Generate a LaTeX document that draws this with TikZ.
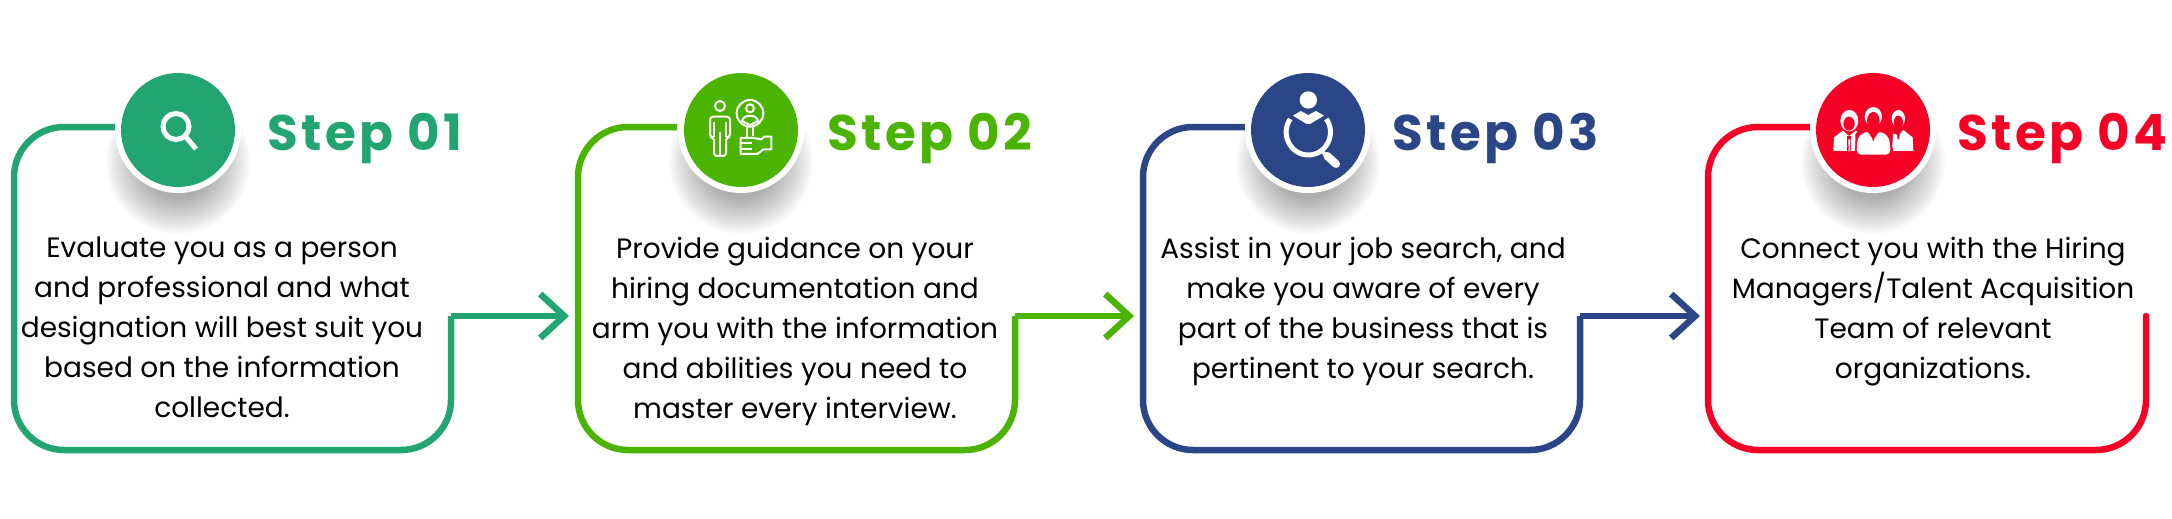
\documentclass[tikz,border=0pt]{standalone}
\usepackage{fontspec}
\setmainfont{Poppins}
\newfontfamily\headfont{Poppins}[LetterSpace=7]
\usetikzlibrary{arrows.meta,backgrounds}
\definecolor{cgreen}{RGB}{34,165,115}
\definecolor{clime}{RGB}{75,180,1}
\definecolor{cblue}{RGB}{42,70,135}
\definecolor{cred}{RGB}{246,0,38}
\tikzset{
  x=1pt,y=-1pt,
  badge/.style={circle,fill=#1,minimum size=114pt,inner sep=0pt},
  ringw/.style={circle,fill=white,minimum size=126pt,inner sep=0pt},
  title/.style={anchor=base west,inner sep=0pt,text=#1,font=\fontsize{50}{50}\selectfont\headfont\bfseries},
  body/.style={anchor=north,inner sep=0pt,align=center,text=black,font=\fontsize{28}{40}\selectfont},
  outline/.style={draw=#1,line width=6.5pt,line join=miter,line cap=square},
  link/.style={draw=#1,line width=6.5pt,-{Straight Barb[length=24pt,width=44pt,line width=6.5pt]}},
  ico/.style={white,line width=2pt},
}
\newcommand{\softshadow}[1]{%
  \foreach \r in {36,38,...,72}{\fill[black,opacity=.018] (#1,162) circle[radius=\r];}}
\begin{document}
\begin{tikzpicture}
\useasboundingbox (0,0) rectangle (2172,519);
% shadows
\softshadow{178}\softshadow{741}\softshadow{1308}\softshadow{1873}
% coordinates of outlines
\foreach \n/\l/\e/\r in {a/14/115/451,b/578/677/1015,c/1143/1245/1580,d/1708/1810/2146}{
  \coordinate (s\n) at (\e,127);
  \coordinate (tl\n) at (\l,127);
  \coordinate (bl\n) at (\l,450);
  \coordinate (br\n) at (\r,450);
  \coordinate (m\n) at (\r,316);
}
\coordinate (ta) at (569,316);
\coordinate (tb) at (1134,316);
\coordinate (tc) at (1700,316);
% outlines
\draw[outline=cgreen,rounded corners=50pt] (sa) -- (tla) -- (bla) -- (bra) -- (ma);
\draw[link=cgreen] (ma) -- (ta);
\draw[outline=clime,rounded corners=50pt] (sb) -- (tlb) -- (blb) -- (brb) -- (mb);
\draw[link=clime] (mb) -- (tb);
\draw[outline=cblue,rounded corners=50pt] (sc) -- (tlc) -- (blc) -- (brc) -- (mc);
\draw[link=cblue] (mc) -- (tc);
\draw[outline=cred,rounded corners=50pt,line cap=round] (sd) -- (tld) -- (bld) -- (brd) -- (md);
% badges
\node[ringw] at (178,130) {};
\node[ringw] at (741,130) {};
\node[ringw] at (1308,130) {};
\node[ringw] at (1873,130) {};
\node[badge=cgreen] (n1) at (178,130) {};
\node[badge=clime] (n2) at (741,130) {};
\node[badge=cblue] (n3) at (1308,130) {};
\node[badge=cred] (n4) at (1873,130) {};
% titles
\node[title=cgreen] (h1) at (267,150) {Step 01};
\node[title=clime] (h2) at (827,150) {Step 02};
\node[title=cblue] (h3) at (1392,150) {Step 03};
\node[title=cred] (h4) at (1957,150) {Step 04};
% body
\node[body] (t1) at (222,237) {Evaluate you as a person\\and professional and what\\designation will best suit you\\based on the information\\collected.};
\node[body] (t2) at (795,237) {Provide guidance on your\\hiring documentation and\\arm you with the information\\and abilities you need to\\master every interview.};
\node[body] (t3) at (1363,237) {Assist in your job search, and\\make you aware of every\\part of the business that is\\pertinent to your search.};
\node[body] (t4) at (1933,237) {Connect you with the Hiring\\Managers/Talent Acquisition\\Team of relevant\\organizations.};
% icon 1
\draw[white,line width=5pt] (176,126.5) circle[radius=13];
\draw[white,line width=5pt] (185,136) -- (196,149);
% icon 2
\begin{scope}[shift={(660,50)},x=.3333pt,y=-.3333pt,ico]
\draw (180,168) circle[radius=15];
\draw[rounded corners=3pt,line join=round] (150,262) -- (150,200) -- (210,200) -- (210,262) -- (198,262) -- (198,318) -- (162,318) -- (162,262) -- cycle;
\draw (180,245) -- (180,318) (162,215) -- (162,262) (198,215) -- (198,262);
\draw (270,190) circle[radius=40];
\draw (270,175) circle[radius=12];
\draw (246,213) .. controls (250,192) and (290,192) .. (294,213) -- (270,225) -- cycle;
\draw (262,232) -- (262,264) (280,232) -- (280,258);
\draw[line join=round] (242,264) -- (280,264) -- (305,268) -- (312,260) -- (334,260) -- (334,298) -- (310,298) -- (292,312) -- (242,312) -- cycle;
\draw (242,280) -- (275,280) (242,296) -- (275,296);
\end{scope}
% icon 3
\begin{scope}[shift={(1230,50)},x=.3333pt,y=-.3333pt]
\fill[white] (235,150) circle[radius=26];
\fill[white] (189,197) -- (212,183) -- (235,195) -- (258,183) -- (282,197) -- (240,222) -- (230,222) -- cycle;
\draw[white,line width=5pt] (181,207) .. controls (150,250) and (180,315) .. (235,315) .. controls (290,315) and (320,250) .. (289,207);
\draw[white,line width=3.5pt] (272,300) -- (292,320);
\draw[white,line width=8pt,line cap=round] (292,318) -- (318,342);
\end{scope}
% icon 4
\begin{scope}[shift={(1790,50)},x=.3333pt,y=-.3333pt]
\fill[white] (130,303) -- (132,262) -- (158,242) -- (177,258) -- (197,242) -- (210,250) -- (198,262) -- (195,303) -- cycle;
\fill[white] (305,303) -- (310,250) -- (325,256) -- (340,240) -- (368,262) -- (370,303) -- cycle;
\fill[white] (178,212) ellipse[x radius=27,y radius=32];
\fill[cred] (177,221) ellipse[x radius=17,y radius=21];
\fill[cred] (172,258) -- (184,258) -- (184,305) -- (172,305) -- cycle;
\fill[white] (175,268) -- (181,268) -- (180,305) -- (176,305) -- cycle;
\fill[white] (325,206) ellipse[x radius=20,y radius=26];
\fill[cred] (325,217) ellipse[x radius=14,y radius=20];
\fill[cred] (320,245) -- (330,245) -- (327,268) -- (323,268) -- cycle;
\fill[cred] (196,252) -- (214,236) -- (235,236) -- (245,270) -- (265,270) -- (272,236) -- (290,240) -- (306,252) -- (300,255) -- (310,305) -- (298,318) -- (205,318) -- (196,305) -- cycle;
\fill[white,rounded corners=5pt] (199,314) -- (203,260) -- (235,240) -- (246,272) -- (254,272) -- (265,240) -- (297,260) -- (303,314) -- cycle;
\fill[cred] (245,248) -- (255,248) -- (252,272) -- (248,272) -- cycle;
\fill[white] (250,200) ellipse[x radius=26,y radius=29];
\fill[cred] (250,212) ellipse[x radius=19,y radius=26];
\end{scope}
\end{tikzpicture}
\end{document}
